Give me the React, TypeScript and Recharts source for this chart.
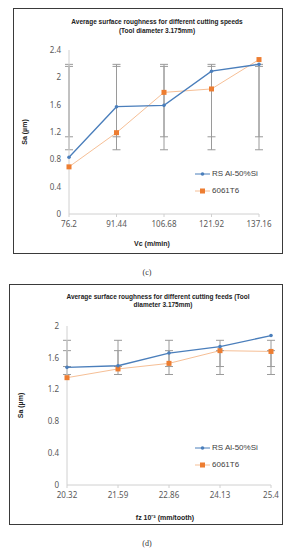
import React from "react";
import { LineChart, Line, XAxis, YAxis, ErrorBar, Legend } from "recharts";

// (c) cutting speeds
const speedLabels = ["76.2", "91.44", "106.68", "121.92", "137.16"];
const speedRS = [0.83, 1.57, 1.59, 2.09, 2.19];
const speed6061 = [0.69, 1.19, 1.78, 1.83, 2.26];
const speedErrRSLow = [1.13, 1.13, 1.13, 1.13, 1.13];
const speedErrRSHigh = [2.16, 2.16, 2.16, 2.16, 2.16];
const speedErr6061Low = [0.94, 0.94, 0.94, 0.94, 0.94];
const speedErr6061High = [2.19, 2.19, 2.19, 2.19, 2.19];
const speedTicks = [0, 0.4, 0.8, 1.2, 1.6, 2, 2.4];

// (d) cutting feeds
const feedLabels = ["20.32", "21.59", "22.86", "24.13", "25.4"];
const feedRS = [1.48, 1.5, 1.66, 1.74, 1.88];
const feed6061 = [1.35, 1.46, 1.53, 1.69, 1.68];
const feedErrRSLow = [1.49, 1.49, 1.49, 1.49, 1.49];
const feedErrRSHigh = [1.69, 1.69, 1.69, 1.69, 1.69];
const feedErr6061Low = [1.39, 1.39, 1.39, 1.39, 1.39];
const feedErr6061High = [1.82, 1.82, 1.82, 1.82, 1.82];
const feedTicks = [0, 0.4, 0.8, 1.2, 1.6, 2];

const BLUE = "#4a7ebb";
const ORANGE = "#ed7d31";
const ORANGE_LINE = "#f6bf96";
const ERR = "#9a9a9a";
const AXIS = "#d0d0d0";
const TICK = "#595959";

function build(labels: string[], rs: number[], al: number[], rsLo: number[], rsHi: number[], alLo: number[], alHi: number[]) {
  return labels.map((x, i) => ({
    x,
    rs: rs[i],
    al: al[i],
    rsErr: [rs[i] - rsLo[i], rsHi[i] - rs[i]],
    alErr: [al[i] - alLo[i], alHi[i] - al[i]],
  }));
}

const BlueDot = (p: any) => (
  <circle key={`b-${p.index}`} cx={p.cx} cy={p.cy} r={1.8} fill={BLUE} />
);
const OrangeDot = (p: any) => (
  <rect key={`o-${p.index}`} x={p.cx - 2.5} y={p.cy - 2.5} width={5} height={5} fill={ORANGE} />
);

const LegendBox = () => (
  <div style={{ fontFamily: "'Liberation Sans', Arial, sans-serif", fontSize: 8, color: "#404040" }}>
    {[
      { name: "RS Al-50%Si", c: BLUE, sq: false },
      { name: "6061T6", c: ORANGE, sq: true },
    ].map((it) => (
      <div key={it.name} style={{ display: "flex", alignItems: "center", height: 17 }}>
        <svg width={17} height={8}>
          <line x1={0} y1={4} x2={15} y2={4} stroke={it.sq ? ORANGE_LINE : BLUE} strokeWidth={1} />
          {it.sq ? <rect x={5} y={1.5} width={5} height={5} fill={ORANGE} /> : <circle cx={7.5} cy={4} r={1.8} fill={BLUE} />}
        </svg>
        <span>{it.name}</span>
      </div>
    ))}
  </div>
);

const tickStyle = { fontSize: 8, fill: TICK, fontFamily: "'Noto Sans', sans-serif" };
const titleStyle: React.CSSProperties = {
  position: "absolute",
  fontFamily: "'Liberation Sans', Arial, sans-serif",
  fontWeight: "bold",
  fontSize: 6.5,
  color: "#222",
  whiteSpace: "nowrap",
  transform: "translate(-50%, -50%)",
};

function Panel(props: {
  left: number; top: number; w: number; h: number; data: any[]; ticks: number[]; max: number;
  margin: any; yWidth: number; xLabel: string; xdx: number; xOffset: number; legendLeft: number; legendTop: number;
}) {
  return (
    <div style={{ position: "absolute", left: props.left, top: props.top, width: props.w + 2, height: props.h + 2, border: "1px solid #3a3a3a", boxSizing: "border-box" }}>
      <LineChart width={props.w} height={props.h} data={props.data} margin={props.margin}>
        <XAxis
          dataKey="x"
          scale="point"
          padding={{ left: 0, right: 0 }}
          height={34}
          stroke={AXIS}
          tick={tickStyle}
          tickSize={3}
          tickMargin={4}
          interval={0}
          label={{ value: props.xLabel, position: "insideBottom", offset: props.xOffset, dx: props.xdx, style: { fontSize: 7, fontWeight: "bold", fill: "#222", fontFamily: "'Liberation Sans', Arial, sans-serif" } }}
        />
        <YAxis
          type="number"
          domain={[0, props.max]}
          ticks={props.ticks}
          interval={0}
          width={props.yWidth}
          stroke={AXIS}
          tick={tickStyle}
          tickLine={false}
          tickSize={0}
          tickMargin={8}
          label={{ value: "Sa (µm)", angle: -90, position: "insideLeft", offset: 11, style: { textAnchor: "middle", fontSize: 7, fontWeight: "bold", fill: "#222", fontFamily: "'Liberation Sans', Arial, sans-serif" } }}
        />
        <Legend
          layout="horizontal"
          align="center"
          verticalAlign="middle"
          content={() => <LegendBox />}
          wrapperStyle={{ left: props.legendLeft, top: props.legendTop, width: 90, bottom: "auto" }}
        />
        <Line dataKey="al" stroke={ORANGE_LINE} strokeWidth={1} dot={OrangeDot} isAnimationActive={false}>
          <ErrorBar dataKey="alErr" width={4} stroke={ERR} strokeWidth={1} direction="y" />
        </Line>
        <Line dataKey="rs" stroke={BLUE} strokeWidth={1.3} dot={BlueDot} isAnimationActive={false}>
          <ErrorBar dataKey="rsErr" width={4} stroke={ERR} strokeWidth={1} direction="y" />
        </Line>
      </LineChart>
    </div>
  );
}

export default function App() {
  const speedData = build(speedLabels, speedRS, speed6061, speedErrRSLow, speedErrRSHigh, speedErr6061Low, speedErr6061High);
  const feedData = build(feedLabels, feedRS, feed6061, feedErrRSLow, feedErrRSHigh, feedErr6061Low, feedErr6061High);
  const caption: React.CSSProperties = { position: "absolute", fontFamily: "'Liberation Serif', serif", fontSize: 8, color: "#333", transform: "translate(-50%, -50%)" };
  return (
    <div style={{ position: "absolute", left: 0, top: 0, width: 294, height: 550, background: "#fff" }}>
      <Panel
        left={13} top={8} w={268} h={244} data={speedData} ticks={speedTicks} max={2.4}
        margin={{ top: 41, right: 23, bottom: 5, left: 0 }} yWidth={55}
        xLabel="Vc (m/min)" xdx={-12} xOffset={2} legendLeft={181} legendTop={156}
      />
      <div style={{ ...titleStyle, left: 157, top: 21 }}>Average surface roughness for different cutting speeds</div>
      <div style={{ ...titleStyle, left: 157, top: 30 }}>(Tool diameter 3.175mm)</div>
      <div style={{ ...caption, left: 147, top: 272 }}>(c)</div>

      <Panel
        left={9} top={284} w={272} h={239} data={feedData} ticks={feedTicks} max={2}
        margin={{ top: 41, right: 11, bottom: 5, left: 0 }} yWidth={57}
        xLabel="fz 10⁻³ (mm/tooth)" xdx={-4} xOffset={-1} legendLeft={185} legendTop={154}
      />
      <div style={{ ...titleStyle, left: 158, top: 296 }}>Average surface roughness for different cutting feeds (Tool</div>
      <div style={{ ...titleStyle, left: 163, top: 304 }}>diameter 3.175mm)</div>
      <div style={{ ...caption, left: 147, top: 543 }}>(d)</div>
    </div>
  );
}
